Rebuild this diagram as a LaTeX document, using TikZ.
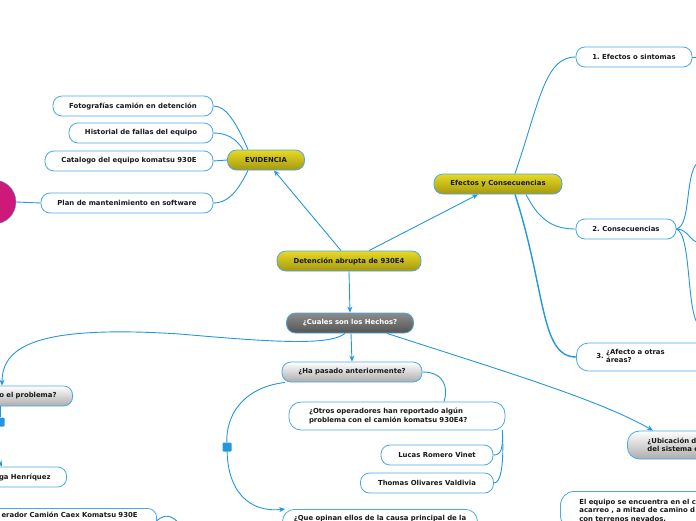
\documentclass[tikz,border=0pt]{standalone}
\usepackage{fontspec}
\setmainfont{DejaVu Sans}
\usepackage{tikz}
\usetikzlibrary{arrows.meta}
\usepackage{xcolor}
\definecolor{linea}{RGB}{36,150,222}
\definecolor{borde}{RGB}{74,168,232}
\definecolor{amaTop}{RGB}{232,218,34}
\definecolor{amaBot}{RGB}{164,152,18}
\definecolor{grisTop}{RGB}{140,140,140}
\definecolor{grisBot}{RGB}{84,84,84}
\definecolor{clTop}{RGB}{255,255,255}
\definecolor{clBot}{RGB}{172,172,172}
\definecolor{magenta}{RGB}{206,24,122}
\definecolor{texto}{RGB}{25,25,25}

\begin{document}
\begin{tikzpicture}[x=1pt,y=-1pt]
		\pgfmathsetmacro{\R}{22}
		\tikzstyle{caja}=[draw=borde, line width=.8pt, rounded corners=9pt, minimum height=20pt, inner sep=0pt, text=texto, font=\bfseries\fontsize{6.9}{8.2}\selectfont]
		\tikzstyle{tema}=[caja, top color=amaTop, bottom color=amaBot]
		\tikzstyle{hecho}=[caja, top color=grisTop, bottom color=grisBot, text=white]
		\tikzstyle{pregunta}=[caja, top color=clTop, bottom color=clBot]
		\tikzstyle{hoja}=[caja, fill=white]
		\tikzstyle{rama}=[draw=linea, line width=.9pt]
		\tikzstyle{flecha}=[rama, -{Stealth[length=6pt,width=5pt]}]
		\tikzstyle{marca}=[fill=linea, rounded corners=1pt, minimum size=9pt, inner sep=0pt]
		\useasboundingbox (0,0) rectangle (696,520);

		% centro
		\node[tema, minimum width=144pt] (det) at (349,261) {Detención abrupta de 930E4};
		\node[tema, minimum width=77pt] (evi) at (266,160) {EVIDENCIA};
		\node[tema, minimum width=128pt] (efe) at (498,184) {Efectos y Consecuencias};
		\node[hecho, minimum width=127pt] (hec) at (350,323) {¿Cuales son los Hechos?};

		\draw[flecha] ([xshift=-8pt]det.north) -- ([xshift=8pt]evi.south);
		\draw[flecha] ([xshift=20pt]det.north) -- ([xshift=-20pt]efe.south);
		\draw[flecha] (det.south) -- (hec.north);

		% evidencia
		\node[hoja, minimum width=160pt] (foto) at (133,106) {Fotografías camión en detención};
		\node[hoja, minimum width=144pt] (hist) at (141,133) {Historial de fallas del equipo};
		\node[hoja, minimum width=168pt] (cat) at (129,161) {Catalogo del equipo komatsu 930E};
		\node[hoja, minimum width=172pt] (plan) at (127,203) {Plan de mantenimiento en software};
		\node[draw=borde, fill=magenta, circle, minimum size=2*\R pt] (circ) at (-6,202) {};

		\draw[rama] ([xshift=-18pt]evi.north) .. controls (236,122) and (226,106) .. (foto.east);
		\draw[rama] ([xshift=-23pt]evi.north) .. controls (236,138) and (226,133) .. (hist.east);
		\draw[rama] (evi.west) -- (cat.east);
		\draw[rama] ([xshift=-18pt]evi.south) .. controls (236,195) and (226,203) .. (plan.east);
		\draw[rama] (circ.east) -- (plan.west);

		% efectos
		\node[hoja, minimum width=116pt] (ef1) at (634,57) {1.\ Efectos o sintomas};
		\node[hoja, minimum width=100pt] (cons) at (626,229) {2.\ Consecuencias};
		\node[hoja, rounded corners=12pt, minimum height=28pt, anchor=west, inner xsep=20pt, text width=130pt, align=left] (afe) at (576,357)
			{3.~\begin{tabular}{@{}l@{}}¿Afecto a otras\\áreas?\end{tabular}};
		\coordinate (ef1fin) at (700,57);
		\coordinate (consA) at (700,161);
		\coordinate (consB) at (700,243);
		\coordinate (consC) at (700,326);

		\draw[rama] ([xshift=17pt]efe.north) .. controls (540,100) and (545,57) .. (ef1.west);
		\draw[rama] ([xshift=28pt]efe.south) .. controls (540,222) and (555,229) .. (cons.west);
		\draw[rama, line width=1.4pt] ([xshift=17pt]efe.south) .. controls (546,290) and (540,357) .. (afe.west);
		\draw[rama] (ef1.east) -- (ef1fin);
		\draw[rama] (cons.east) .. controls (692,226) and (684,168) .. (consA);
		\draw[rama] (cons.east) .. controls (688,229) and (690,242) .. (consB);
		\draw[rama] (cons.east) .. controls (692,234) and (686,318) .. (consC);

		% hechos
		\node[pregunta, minimum width=140pt] (hap) at (352,372) {¿Ha pasado anteriormente?};
		\node[hoja, rounded corners=12pt, minimum height=28pt, inner xsep=20pt, text width=176pt, align=left] (otr) at (397,416)
			{¿Otros operadores han reportado algún\\problema con el camión komatsu 930E4?};
		\node[hoja, minimum width=112pt] (luc) at (437,455) {Lucas Romero Vinet};
		\node[hoja, minimum width=133pt] (tho) at (427,483) {Thomas Olivares Valdivia};
		\node[hoja, rounded corners=12pt, anchor=north, inner ysep=6pt, text width=195pt, align=center] (que) at (380,509)
			{¿Que opinan ellos de la causa principal de la\\\strut};
		\node[marca] (sq1) at (227,447) {};

		\draw[flecha] ([xshift=1pt]hec.south) -- (hap.north);
		\draw[rama] (hap.east) .. controls (446,372) and (448,390) .. ([xshift=47pt]otr.north);
		\draw[rama] ([xshift=-3pt]otr.south east) .. controls (503,450) and (501,455) .. (luc.east);
		\draw[rama] ([xshift=-3pt]otr.south east) .. controls (504,465) and (501,483) .. (tho.east);
		\draw[rama] ([xshift=-67pt]hap.south) .. controls (240,388) and (226,418) .. (sq1);
		\draw[flecha] (sq1) .. controls (228,490) and (248,513) .. ([xshift=3pt]que.north west);

		% ubicacion
		\node[pregunta, rounded corners=12pt, minimum height=28pt, anchor=west, inner xsep=20pt, text width=100pt, align=left] (ubi) at (627,445)
			{¿Ubicación d\\del sistema e};
		\node[hoja, rounded corners=14pt, anchor=north west, inner xsep=19pt, inner ysep=8pt, text width=130pt, align=left] (equ) at (560,491)
			{El equipo se encuentra en el c\\acarreo , a mitad de camino d\\con terrenos nevados.};
		\draw[flecha] ([xshift=37pt]hec.south) .. controls (500,370) and (600,400) .. ([xshift=26pt]ubi.north west);

		% donde
		\node[pregunta, anchor=east, inner xsep=16pt, text width=130pt, align=right] (dond) at (73,396) {o el problema?};
		\node[marca] (sq2) at (0,422) {};
		\node[hoja, anchor=east, inner xsep=16pt, text width=130pt, align=right] (hen) at (67,477) {ga Henríquez};
		\node[hoja, anchor=north east, inner xsep=19pt, inner ysep=4pt, text width=200pt, align=right] (ope) at (157,508) {erador Camión Caex Komatsu 930E\\\strut};
		\coordinate (opefin) at (180,524);

		\draw[flecha] ([xshift=-5pt]hec.south) .. controls (330,346) and (270,342) .. (180,334) .. controls (40,325) and (2,345) .. ([xshift=-71pt]dond.north east);
		\draw[rama] ([xshift=-73pt]dond.south east) -- (sq2);
		\draw[flecha] (sq2) .. controls (-4,440) and (-4,455) .. ([xshift=-65pt]hen.north east);
		\draw[rama] (ope.east) .. controls (166,513) and (172,516) .. (opefin);
	\end{tikzpicture}
\end{document}
